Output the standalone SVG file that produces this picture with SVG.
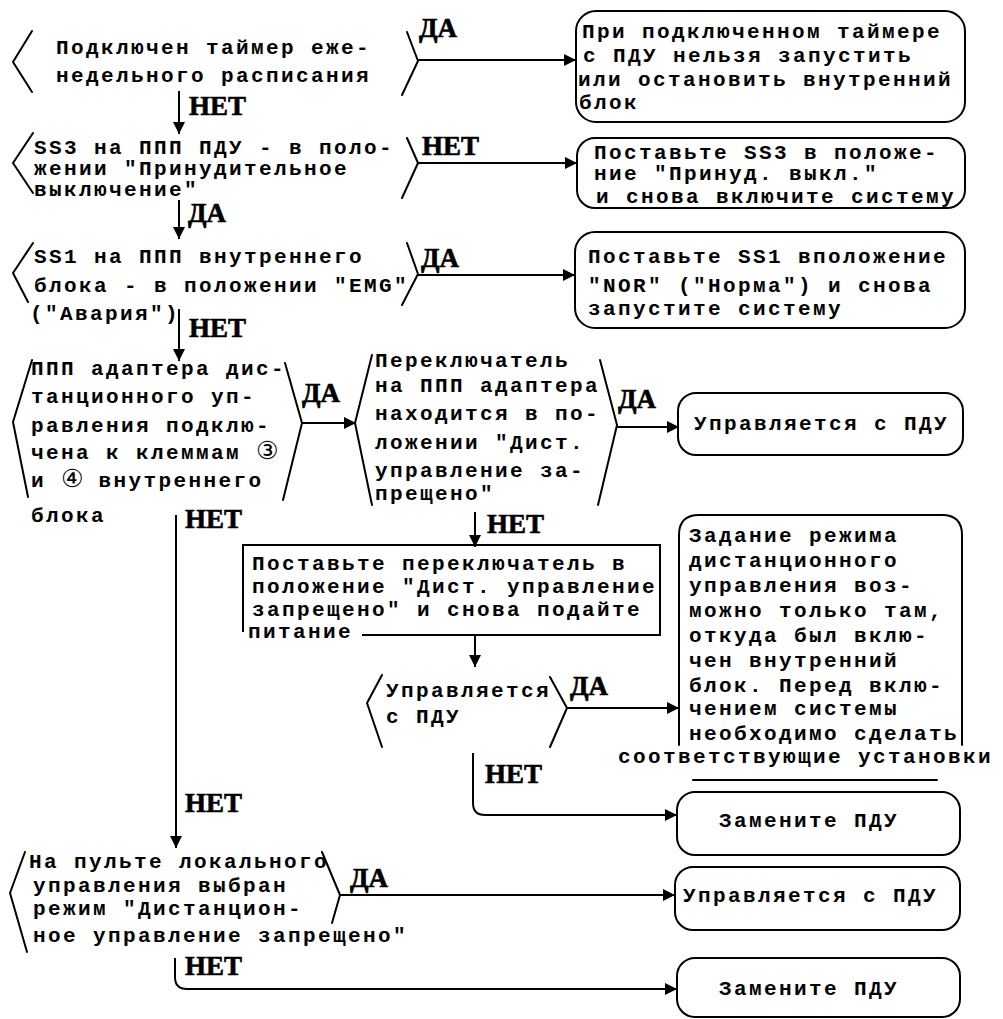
<svg xmlns="http://www.w3.org/2000/svg" width="1003" height="1019" viewBox="0 0 1003 1019">
<style>
.t{font-family:"Liberation Mono","DejaVu Sans Mono",monospace;font-weight:bold;font-size:21px;letter-spacing:2.4px;fill:#000}
.c{font-family:"DejaVu Sans",sans-serif;font-weight:normal;font-size:25px;letter-spacing:0}
.l{font-family:"Liberation Serif","DejaVu Serif",serif;font-weight:bold;font-size:27px;fill:#000;stroke:#000;stroke-width:0.6}
.s{fill:none;stroke:#000;stroke-width:2;stroke-linejoin:round;stroke-linecap:round}
.k{fill:none;stroke:#000;stroke-width:2}
</style>
<defs>
<marker id="ah" viewBox="0 0 12 12" refX="12" refY="6" markerWidth="12" markerHeight="12" markerUnits="userSpaceOnUse" orient="auto"><path d="M0,0 L12,6 L0,12 z" fill="#000"/></marker>
</defs>
<rect width="1003" height="1019" fill="#fff"/>

<g id="n1">
<path class="s" d="M32 31 L13 62 L32 92 M407 32 L418 61 L402 95"/>
<text class="t" x="56" y="54">Подключен таймер еже-</text>
<text class="t" x="56" y="82">недельного расписания</text>
</g>
<g id="b1">
<rect class="s" x="576" y="11" width="389" height="111" rx="20"/>
<text class="t" x="582" y="38">При подключенном таймере</text>
<text class="t" x="583" y="62">с ПДУ нельзя запустить</text>
<text class="t" x="578" y="86">или остановить внутренний</text>
<text class="t" x="579" y="109">блок</text>
</g>
<g id="n2">
<path class="s" d="M33 133 L13 163 L33 193 M407 138 L418 163 L402 198"/>
<text class="t" x="34" y="154">SS3 на ППП ПДУ - в поло-</text>
<text class="t" x="34" y="175">жении "Принудительное</text>
<text class="t" x="34" y="196">выключение"</text>
</g>
<g id="b2">
<rect class="s" x="577" y="138" width="388" height="70" rx="18"/>
<text class="t" x="594" y="159">Поставьте SS3 в положе-</text>
<text class="t" x="594" y="180">ние "Принуд. выкл."</text>
<text class="t" x="596" y="203">и снова включите систему</text>
</g>
<g id="n3">
<path class="s" d="M33 243 L13 273 L28 302 M407 243 L418 274 L402 305"/>
<text class="t" x="34" y="263">SS1 на ППП внутреннего</text>
<text class="t" x="34" y="292">блока - в положении "EMG"</text>
<text class="t" x="30" y="320">("Авария")</text>
</g>
<g id="b3">
<rect class="s" x="575" y="232" width="390" height="96" rx="20"/>
<text class="t" x="588" y="263">Поставьте SS1 вположение</text>
<text class="t" x="588" y="292">"NOR" ("Норма") и снова</text>
<text class="t" x="588" y="315">запустите систему</text>
</g>
<g id="n4">
<path class="s" d="M32 360 L13 422 L28 497 M285 363 L302 423 L283 500"/>
<text class="t" x="31" y="375">ППП адаптера дис-</text>
<text class="t" x="31" y="403">танционного уп-</text>
<text class="t" x="31" y="432">равления подклю-</text>
<text class="t" x="31" y="459">чена к клеммам <tspan class="c">③</tspan></text>
<text class="t" x="31" y="487">и <tspan class="c">④</tspan> внутреннего</text>
<text class="t" x="31" y="522">блока</text>
</g>
<g id="n5">
<path class="s" d="M372 355 L355 423 L372 505 M600 360 L617 425 L598 505"/>
<text class="t" x="375" y="367">Переключатель</text>
<text class="t" x="375" y="392">на ППП адаптера</text>
<text class="t" x="375" y="420">находится в по-</text>
<text class="t" x="375" y="449">ложении "Дист.</text>
<text class="t" x="375" y="477">управление за-</text>
<text class="t" x="375" y="500">прещено"</text>
</g>
<g id="n6">
<rect class="s" x="678" y="393" width="285" height="62" rx="18"/>
<text class="t" x="694" y="430">Управляется с ПДУ</text>
</g>
<g id="n7">
<path class="k" d="M243 632 V545 H660 V635 H362"/>
<text class="t" x="252" y="570">Поставьте переключатель в</text>
<text class="t" x="252" y="593">положение "Дист. управление</text>
<text class="t" x="252" y="616">запрещено" и снова подайте</text>
<text class="t" x="248" y="638">питание</text>
</g>
<g id="n8">
<path class="s" d="M382 675 L367 703 L382 747 M550 677 L567 708 L550 747"/>
<text class="t" x="386" y="697">Управляется</text>
<text class="t" x="386" y="723">с ПДУ</text>
</g>
<g id="n9">
<path class="s" d="M679 745 V535 Q679 515 699 515 H942 Q962 515 962 535 V745 M693 780 H937"/>
<text class="t" x="689" y="542">Задание режима</text>
<text class="t" x="689" y="567">дистанционного</text>
<text class="t" x="689" y="592">управления воз-</text>
<text class="t" x="689" y="617">можно только там,</text>
<text class="t" x="689" y="642">откуда был вклю-</text>
<text class="t" x="689" y="667">чен внутренний</text>
<text class="t" x="689" y="692">блок. Перед вклю-</text>
<text class="t" x="689" y="715">чением системы</text>
<text class="t" x="689" y="740">необходимо сделать</text>
<text class="t" x="618" y="763">соответствующие установки</text>
</g>
<g id="n10">
<rect class="s" x="677" y="792" width="283" height="63" rx="18"/>
<text class="t" x="719" y="827">Замените ПДУ</text>
</g>
<g id="n11">
<path class="s" d="M25 852 L10 893 L27 952 M322 852 L340 895 L332 923"/>
<text class="t" x="29" y="868">На пульте локального</text>
<text class="t" x="33" y="892">управления выбран</text>
<text class="t" x="33" y="915">режим "Дистанцион-</text>
<text class="t" x="33" y="942">ное управление запрещено"</text>
</g>
<g id="n12">
<rect class="s" x="675" y="867" width="285" height="63" rx="18"/>
<text class="t" x="683" y="902">Управляется с ПДУ</text>
</g>
<g id="n13">
<rect class="s" x="677" y="958" width="283" height="59" rx="18"/>
<text class="t" x="719" y="995">Замените ПДУ</text>
</g>

<g id="connectors">
<g class="k" marker-end="url(#ah)">
<path d="M418 60 H576"/>
<path d="M179 91 V134"/>
<path d="M418 163 H577"/>
<path d="M179 200 V239"/>
<path d="M418 275 H575"/>
<path d="M179 309 V361"/>
<path d="M302 423 H356"/>
<path d="M617 427 H679"/>
<path d="M475 512 V547"/>
<path d="M475 635 V667"/>
<path d="M567 708 H679"/>
<path d="M473 753 V803 Q473 815 485 815 H677"/>
<path d="M176 515 V848"/>
<path d="M340 895 H675"/>
<path d="M175 958 V977 Q175 989 187 989 H677"/>
</g>
<text class="l" x="419" y="37">ДА</text>
<text class="l" x="189" y="115">НЕТ</text>
<text class="l" x="422" y="155">НЕТ</text>
<text class="l" x="188" y="222">ДА</text>
<text class="l" x="421" y="267">ДА</text>
<text class="l" x="189" y="337">НЕТ</text>
<text class="l" x="302" y="402">ДА</text>
<text class="l" x="618" y="408">ДА</text>
<text class="l" x="487" y="533">НЕТ</text>
<text class="l" x="185" y="528">НЕТ</text>
<text class="l" x="570" y="695">ДА</text>
<text class="l" x="485" y="783">НЕТ</text>
<text class="l" x="185" y="812">НЕТ</text>
<text class="l" x="350" y="887">ДА</text>
<text class="l" x="185" y="975">НЕТ</text>
</g>
</svg>
